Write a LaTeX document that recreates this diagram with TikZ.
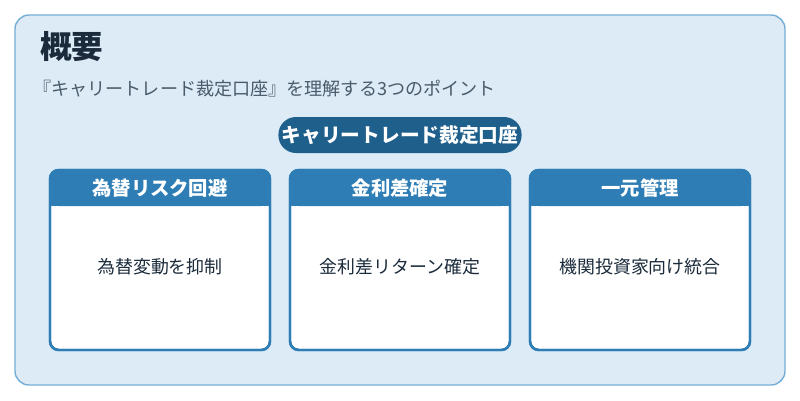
\documentclass[tikz,border=0pt]{standalone}
\usepackage{fontspec}
\setmainfont{Noto Sans CJK JP}
\usetikzlibrary{calc}
\usetikzlibrary{positioning}
\definecolor{bgblue}{HTML}{DCEBF6}
\definecolor{edgeblue}{HTML}{74AED6}
\definecolor{headblue}{HTML}{2E7DB5}
\definecolor{pillblue}{HTML}{1F5F8B}
\definecolor{titleink}{HTML}{1B2B3B}
\definecolor{subink}{HTML}{4A5B6B}
\tikzset{
  cardhead/.style={fill=headblue, rounded corners=5pt},
  cardbody/.style={draw=headblue, line width=1.4pt, rounded corners=5pt, fill=white},
  headtext/.style={text=white, font=\fontsize{11}{13}\selectfont\bfseries},
  bodytext/.style={text=titleink, font=\fontsize{10.2}{12}\selectfont}
}
\begin{document}
\begin{tikzpicture} [x=0.02cm, y=-0.02cm]
\useasboundingbox (0,0) rectangle (800,400);
\draw[fill=bgblue, draw=edgeblue, line width=0.8pt, rounded corners=8pt] (15,15) rectangle (785,385);

\node[anchor=west, text=titleink, font=\fontsize{18}{20}\selectfont\bfseries, inner sep=0pt] (title) at (40,47) {概要};
\node[anchor=west, text=subink, font=\fontsize{10.3}{12}\selectfont, inner sep=0pt] (subtitle) at (33,89) {『キャリートレード裁定口座』を理解する3つのポイント};

\node[fill=pillblue, rounded corners=10pt, minimum width=240*0.02cm, minimum height=36*0.02cm, inner xsep=2pt, text=white, font=\fontsize{11.2}{13}\selectfont\bfseries] (pill) at (400,135) {キャリートレード裁定口座};

\foreach \x/\head/\body [count=\i] in {50/為替リスク回避/為替変動を抑制, 290/金利差確定/金利差リターン確定, 530/一元管理/機関投資家向け統合} {
  \draw[cardbody] (\x,170) rectangle ++(220,180);
  \fill[cardhead] (\x,170) rectangle ++(220,36);
  \fill[headblue] (\x,195) rectangle ++(220,11);
  \draw[headblue, line width=1.4pt, rounded corners=5pt] (\x,170) rectangle ++(220,180);
  \node[headtext] (head\i) at (\x+110,188) {\head};
  \node[bodytext] (body\i) at (\x+110,267) {\body};
}
\end{tikzpicture}
\end{document}
